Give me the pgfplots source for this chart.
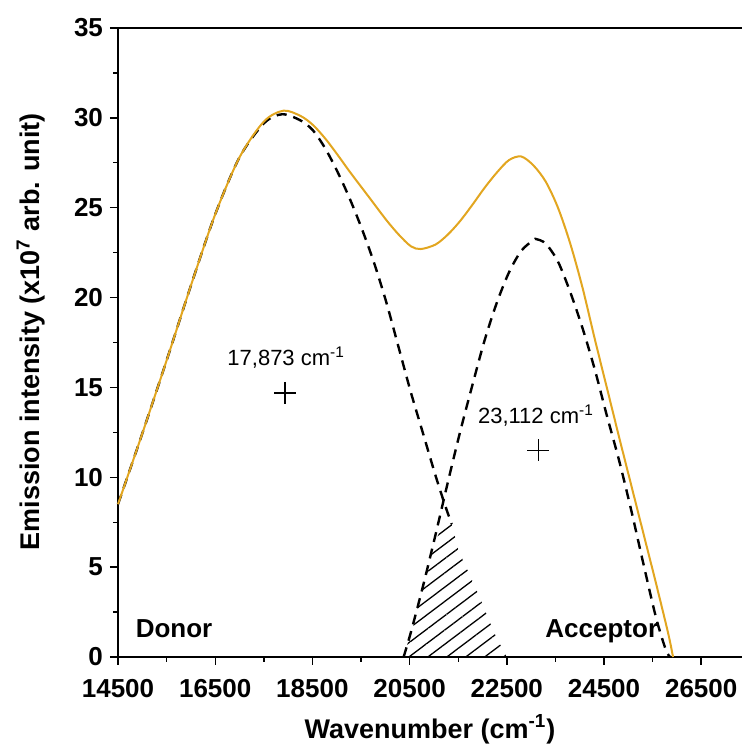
\documentclass[border=0pt]{standalone}
\usepackage{fontspec}
\setmainfont{Liberation Sans}
\usepackage{pgfplots}
\pgfplotsset{compat=1.18}
\usetikzlibrary{patterns.meta}
\definecolor{sumcol}{RGB}{226,166,32}
\begin{document}
\begin{tikzpicture}
\begin{axis}[
  scale only axis,
  width=312pt, height=314.5pt,
  xmin=14500, xmax=27340,
  ymin=0, ymax=35,
  axis lines=left,
  axis line style={-, line width=0.7pt},
  xtick={14500,16500,...,26500},
  ytick={0,5,...,35},
  minor x tick num=1,
  minor y tick num=1,
  tick align=outside,
  major tick length=4pt,
  minor tick length=2.5pt,
  tick style={line width=0.7pt, black},
  scaled x ticks=false,
  /pgf/number format/1000 sep={},
  /pgf/number format/assume math mode=true,
  ticklabel style={font=\fontsize{13}{15}\selectfont\bfseries},
  xticklabel style={yshift=-3.5pt},
  xlabel={Wavenumber (cm\textsuperscript{-1})},
  ylabel={Emission intensity (x10\textsuperscript{7} arb. unit)},
  label style={font=\fontsize{13.5}{16}\selectfont\bfseries},
  xlabel style={at={(axis description cs:0.5,-0.1288)}, anchor=base},
  ylabel style={at={(axis description cs:-0.125,0.517)}, anchor=base},
  clip=false,
]
% hatched overlap region
\addplot[draw=none, pattern={Lines[angle=37, distance=5.7pt, line width=0.65pt]}, pattern color=black]
  coordinates {(20369,0) (20575,1.7) (20747,3.7) (20884,5.0) (21021,6.4) (21124,7.0) (21362,7.5)
  (21498,6.0) (21705,4.75) (21945,3.3) (22117,2.15) (22322,0.85) (22459,0.3) (22492,0)} -- cycle;
% donor (dashed)
\addplot[black, line width=1.2pt, dash pattern=on 5pt off 3.5pt, smooth]
  coordinates {(14500,8.5) (14983,12.3) (15488,16.4) (15992,20.6) (16496,24.6) (17000,27.8)
  (17504,29.7) (17877,30.2) (18260,29.85) (18512,29.3) (18764,28.3) (19016,27.0) (19269,25.5)
  (19521,23.8) (19773,21.9) (20025,19.7) (20277,17.2) (20529,14.7) (20781,12.4) (21033,10.1)
  (21235,8.4) (21366,7.4)};
% acceptor (dashed)
\addplot[black, line width=1.2pt, dash pattern=on 5pt off 3.5pt, smooth]
  coordinates {(20377,0) (20529,1.4) (20781,4.0) (21033,6.8) (21285,9.7) (21537,12.5) (21789,15.1)
  (22041,17.6) (22293,19.7) (22545,21.4) (22797,22.6) (23049,23.2) (23110,23.25) (23301,23.0)
  (23553,22.0) (23806,20.3) (24058,18.3) (24310,16.0) (24562,13.4) (24814,10.9) (25066,8.1)
  (25318,5.1) (25570,2.2) (25772,0.4) (25863,0)};
% sum (solid)
\addplot[sumcol, line width=1pt, smooth]
  coordinates {(14500,8.5) (14983,12.3) (15488,16.4) (15992,20.6) (16496,24.6) (17000,27.8)
  (17504,29.8) (17907,30.4) (18260,30.1) (18512,29.6) (18764,28.85) (19016,27.95) (19269,27.0)
  (19521,26.1) (19773,25.2) (20025,24.3) (20277,23.5) (20529,22.85) (20731,22.7) (21033,22.95)
  (21285,23.5) (21537,24.25) (21789,25.15) (22041,26.1) (22293,26.95) (22545,27.65) (22797,27.85)
  (23049,27.35) (23301,26.45) (23553,25.0) (23806,23.0) (24058,20.55) (24310,17.7)
  (24562,14.95) (24814,12.2) (25066,9.5) (25318,6.8) (25570,4.1) (25822,1.3) (25920,0)};
% peak markers
\addplot[only marks, mark=+, mark size=5.5pt, mark options={line width=0.7pt}, black]
  coordinates {(17940,14.7) (23148,11.5)};
\node[anchor=base, yshift=13.5pt, font=\fontsize{11}{13}\selectfont] at (axis cs:17960,14.7) {17,873 cm\textsuperscript{-1}};
\node[anchor=base, yshift=13.5pt, font=\fontsize{11}{13}\selectfont] at (axis cs:23100,11.5) {23,112 cm\textsuperscript{-1}};
\node[anchor=base west, font=\fontsize{13}{15}\selectfont\bfseries] at (axis cs:14720,1.1) {Donor};
\node[anchor=base east, font=\fontsize{13}{15}\selectfont\bfseries] at (axis cs:25760,1.1) {Acceptor};
\draw[line width=0.7pt] (rel axis cs:0,1) -- (rel axis cs:1,1);
\end{axis}
\pgfresetboundingbox
\path ([xshift=-59pt,yshift=-47pt]current axis.south west) rectangle ([yshift=14pt]current axis.north east);
\end{tikzpicture}
\end{document}
